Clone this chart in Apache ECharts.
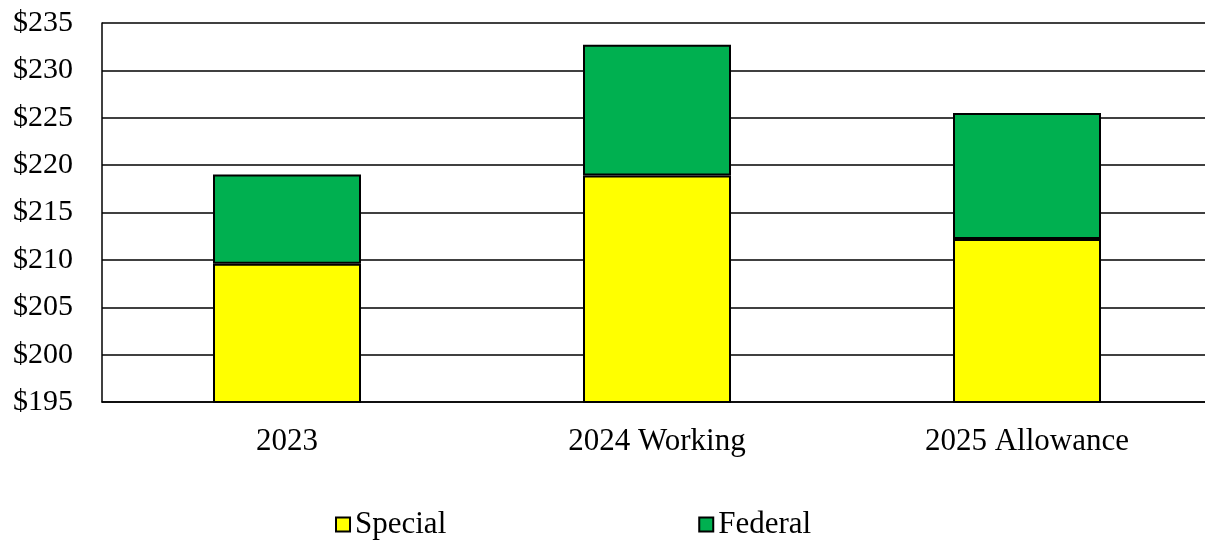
<!DOCTYPE html>
<html>
<head>
<meta charset="utf-8">
<script src="https://cdn.jsdelivr.net/npm/echarts@6/dist/echarts.min.js"></script>
<style>
html, body { margin: 0; padding: 0; background: #fff; overflow: hidden; }
#charts { width: 1212px; height: 540px; }
</style>
</head>
<body>
<div id="charts"></div>
<script>
// data (millions)
var years = ['2023', '2024 Working', '2025 Allowance'];
var special = [209.6, 218.9, 212.2];
var federal = [9.4, 13.8, 13.3];
var yTicks = [195, 200, 205, 210, 215, 220, 225, 230, 235];

var font = 'Liberation Serif';
var myChart = echarts.init(document.getElementById('charts'));

// plot area runs a few px past the right edge of the window, like the original
option = {
    animation: false,
    grid: { left: 102, right: 0, top: 23, bottom: 138 },
    legend: {
        left: 330,
        top: 504,
        itemWidth: 14,
        itemHeight: 14,
        itemGap: 252,
        icon: 'rect',
        textStyle: { fontFamily: font, fontSize: 31, color: '#000' },
        data: ['Special', 'Federal']
    },
    xAxis: {
        type: 'category',
        data: years,
        axisTick: { show: false },
        axisLine: { lineStyle: { color: '#000', width: 1.5 } },
        axisLabel: { fontFamily: font, fontSize: 31, color: '#000', margin: 24 }
    },
    yAxis: {
        type: 'value',
        min: yTicks[0],
        max: yTicks[yTicks.length - 1],
        interval: 5,
        axisLine: { show: true, lineStyle: { color: '#000', width: 1.5 } },
        axisTick: { show: false },
        splitLine: { lineStyle: { color: '#000', width: 1.5 } },
        axisLabel: {
            fontFamily: font, fontSize: 30, color: '#000', margin: 29,
            formatter: function (v) { return '$' + v; }
        }
    },
    series: [
        {
            name: 'Special',
            type: 'bar',
            stack: 'total',
            barWidth: '40%',
            data: special,
            itemStyle: { color: '#FFFF00', borderColor: '#000', borderWidth: 2 }
        },
        {
            name: 'Federal',
            type: 'bar',
            stack: 'total',
            barWidth: '40%',
            data: federal,
            itemStyle: { color: '#00B050', borderColor: '#000', borderWidth: 2 }
        }
    ]
};

myChart.setOption(option);
</script>
</body>
</html>
